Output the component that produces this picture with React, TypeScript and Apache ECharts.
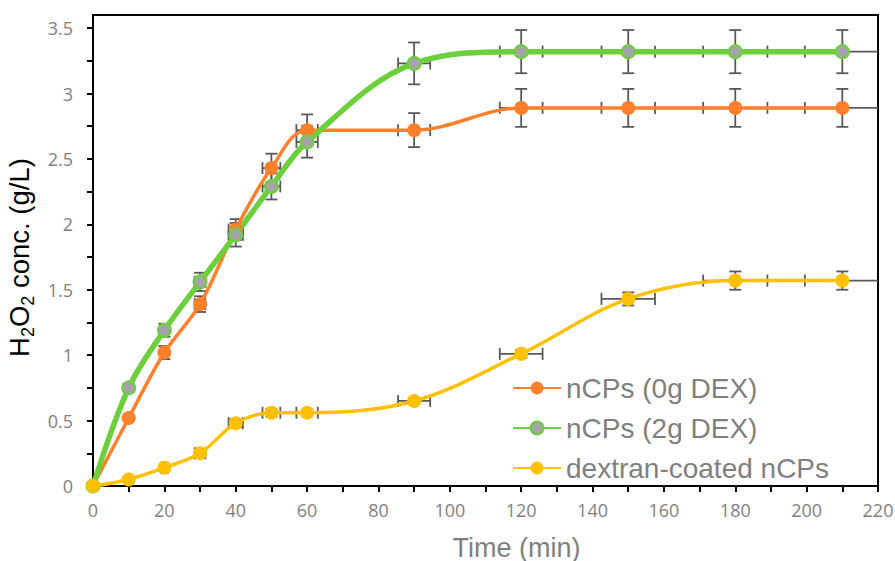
import React, { useEffect, useRef } from 'react';
import * as echarts from 'echarts';

// ---- data ----
const times = [0, 10, 20, 30, 40, 50, 60, 90, 120, 150, 180, 210];
const dex0 = [0, 0.52, 1.02, 1.39, 1.96, 2.43, 2.72, 2.72, 2.89, 2.89, 2.89, 2.89];
const dex2 = [0, 0.75, 1.19, 1.56, 1.92, 2.29, 2.63, 3.23, 3.32, 3.32, 3.32, 3.32];
const coated = [0, 0.05, 0.14, 0.25, 0.48, 0.56, 0.56, 0.65, 1.01, 1.43, 1.57, 1.57];
const timeErr = [0, 0.5, 1, 1.5, 2, 2.5, 3, 4.5, 6, 7.5, 9, 10.5];
const dex0Err = [0, 0.02, 0.05, 0.06, 0.08, 0.11, 0.12, 0.13, 0.145, 0.145, 0.145, 0.145];
const dex2Err = [0, 0.03, 0.05, 0.07, 0.09, 0.1, 0.12, 0.16, 0.165, 0.165, 0.165, 0.165];
const coatedErr = [0, 0.01, 0.02, 0.03, 0.03, 0.03, 0.02, 0.02, 0.03, 0.05, 0.07, 0.07];

const seriesNames = ['nCPs (0g DEX)', 'nCPs (2g DEX)', 'dextran-coated nCPs'];
const yLabelValues = [0, 0.5, 1, 1.5, 2, 2.5, 3, 3.5];
const yTickValues = [0, 0.25, 0.5, 0.75, 1, 1.25, 1.5, 1.75, 2, 2.25, 2.5, 2.75, 3, 3.25, 3.5];
const xMin = 0;
const xMax = 220;
const xStep = 20;
const yMax = 3.6;

const ERR_COLOR = '#595959';
const LABEL_COLOR = '#7F7F7F';
const ARIAL = '"Liberation Sans", Arial, sans-serif';
const TICKFONT = '"Open Sans", "Liberation Sans", sans-serif';

function errorSeries(id: string, ys: number[], errs: number[]) {
  return {
    type: 'custom',
    id,
    name: id,
    z: 1,
    silent: true,
    data: times.map((t, i) => [t, ys[i], timeErr[i], errs[i]]),
    encode: { x: 0, y: 1 },
    renderItem: (params: any, api: any) => {
      const x = api.value(0);
      const y = api.value(1);
      const xe = api.value(2);
      const ye = api.value(3);
      const style = { stroke: ERR_COLOR, lineWidth: 1.8 };
      const cap = 6;
      const children: any[] = [];
      if (ye > 0) {
        const t = api.coord([x, y + ye]);
        const b = api.coord([x, y - ye]);
        children.push({ type: 'line', shape: { x1: t[0], y1: t[1], x2: b[0], y2: b[1] }, style });
        children.push({ type: 'line', shape: { x1: t[0] - cap, y1: t[1], x2: t[0] + cap, y2: t[1] }, style });
        children.push({ type: 'line', shape: { x1: b[0] - cap, y1: b[1], x2: b[0] + cap, y2: b[1] }, style });
      }
      if (xe > 0) {
        const lx = Math.max(x - xe, xMin);
        const rx = Math.min(x + xe, xMax);
        const l = api.coord([lx, y]);
        const r = api.coord([rx, y]);
        children.push({ type: 'line', shape: { x1: l[0], y1: l[1], x2: r[0], y2: r[1] }, style });
        if (x - xe >= xMin)
          children.push({ type: 'line', shape: { x1: l[0], y1: l[1] - cap, x2: l[0], y2: l[1] + cap }, style });
        if (x + xe <= xMax)
          children.push({ type: 'line', shape: { x1: r[0], y1: r[1] - cap, x2: r[0], y2: r[1] + cap }, style });
      }
      return { type: 'group', children };
    },
  };
}

export default function App() {
  const ref = useRef<HTMLDivElement>(null);

  useEffect(() => {
    if (!ref.current) return;
    const chart = echarts.init(ref.current, undefined, { renderer: 'svg' });
    const option: any = {
      animation: false,
      backgroundColor: '#ffffff',
      grid: {
        left: 93,
        right: 17,
        top: 15,
        bottom: 75,
        containLabel: false,
        outerBoundsMode: 'none',
        show: true,
        borderColor: '#000',
        borderWidth: 2,
        backgroundColor: 'transparent',
      },
      legend: {
        data: seriesNames,
        orient: 'vertical',
        left: 507,
        top: 363,
        itemWidth: 48,
        itemHeight: 16,
        itemGap: 0,
        selectedMode: false,
        textStyle: { fontFamily: ARIAL, fontSize: 28, color: LABEL_COLOR, lineHeight: 40 },
      },
      xAxis: {
        type: 'value',
        min: xMin,
        max: xMax,
        interval: xStep,
        name: 'Time (min)',
        nameLocation: 'middle',
        nameGap: 48,
        nameTextStyle: { fontFamily: ARIAL, fontSize: 27, color: LABEL_COLOR, padding: [0, 0, 0, 62] },
        axisLine: { lineStyle: { color: '#000', width: 2 } },
        axisTick: { show: true, inside: false, length: 6, lineStyle: { color: '#000', width: 2 } },
        minorTick: { show: true, splitNumber: 2, length: 6, lineStyle: { color: '#000', width: 2 } },
        axisLabel: { fontFamily: TICKFONT, fontSize: 18, color: LABEL_COLOR, margin: 15 },
        splitLine: { show: false },
      },
      yAxis: {
        type: 'value',
        min: 0,
        max: yMax,
        name: '{n|H}{s|2}{n|O}{s|2}{n| conc. (g/L)}',
        nameLocation: 'middle',
        nameGap: 50,
        nameRotate: 90,
        nameTextStyle: {
          padding: [0, 14, 0, 0],
          rich: {
            n: { fontFamily: ARIAL, fontSize: 27.5, color: '#000', lineHeight: 36 },
            s: { fontFamily: ARIAL, fontSize: 18, color: '#000', lineHeight: 36, padding: [16, 0, 0, 0] },
          },
        },
        axisLine: { show: true, lineStyle: { color: '#000', width: 2 } },
        axisTick: { show: true, inside: false, length: 6, customValues: yTickValues, lineStyle: { color: '#000', width: 2 } },
        axisLabel: { fontFamily: TICKFONT, fontSize: 18, color: LABEL_COLOR, margin: 20, customValues: yLabelValues },
        splitLine: { show: false },
      },
      series: [
        errorSeries('err0', dex0, dex0Err),
        errorSeries('err2', dex2, dex2Err),
        errorSeries('errC', coated, coatedErr),
        {
          type: 'line',
          name: seriesNames[0],
          z: 3,
          data: times.map((t, i) => [t, dex0[i]]),
          smooth: 0.35,
          symbol: 'circle',
          symbolSize: 14,
          lineStyle: { color: '#FF7F2A', width: 3.5 },
          itemStyle: { color: '#FF7F2A', borderWidth: 0 },
        },
        {
          type: 'line',
          name: seriesNames[1],
          z: 3,
          data: times.map((t, i) => [t, dex2[i]]),
          smooth: 0.35,
          symbol: 'circle',
          symbolSize: 13,
          lineStyle: { color: '#6CCF3C', width: 5.5 },
          itemStyle: { color: '#A5A5A5', borderColor: '#6CCF3C', borderWidth: 2 },
        },
        {
          type: 'line',
          name: seriesNames[2],
          z: 3,
          data: times.map((t, i) => [t, coated[i]]),
          smooth: 0.35,
          symbol: 'circle',
          symbolSize: 14,
          lineStyle: { color: '#FFC000', width: 3.5 },
          itemStyle: { color: '#FFC000', borderWidth: 0 },
        },
      ],
    };
    chart.setOption(option);
    return () => chart.dispose();
  }, []);

  return (
    <div
      ref={ref}
      style={{ position: 'fixed', left: 0, top: 0, width: 895, height: 561, background: '#fff' }}
    />
  );
}
